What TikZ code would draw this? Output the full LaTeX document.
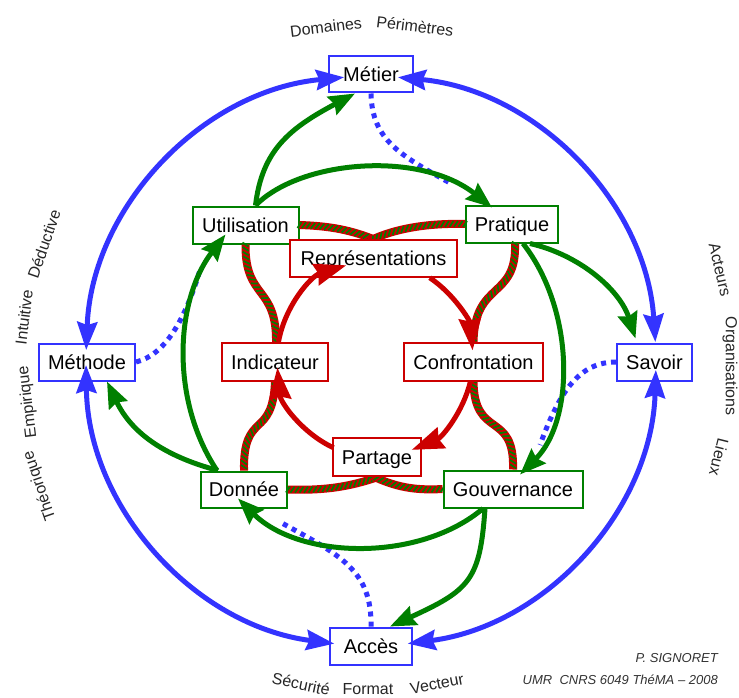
\documentclass[tikz,border=0pt]{standalone}
\usepackage{fontspec}
\setmainfont{Liberation Sans}
\usetikzlibrary{arrows.meta,decorations.markings}
\definecolor{cblue}{RGB}{51,51,255}
\definecolor{cgreen}{RGB}{0,128,0}
\definecolor{cred}{RGB}{204,0,0}
\begin{document}
\begin{tikzpicture}[x=1pt,y=-1pt,
  box/.style={draw, fill=white, line width=2pt, inner sep=0pt, text height=14.3pt, text depth=0pt, font=\fontsize{20}{24}\selectfont, text=black},
  bbox/.style={box, draw=cblue},
  gbox/.style={box, draw=cgreen},
  rbox/.style={box, draw=cred},
  bluearc/.style={draw=cblue, line width=5pt, {Stealth[length=28pt,width=20pt,inset=3pt]}-{Stealth[length=28pt,width=20pt,inset=3pt]}},
  greenarr/.style={draw=cgreen, line width=5pt, -{Stealth[length=26pt,width=20pt,inset=3pt]}},
  redarr/.style={draw=cred, line width=5pt, -{Stealth[length=32pt,width=22pt,inset=3pt]}},
  bluedot/.style={draw=cblue, line width=5pt, dash pattern=on 5pt off 5pt},
  rope/.style={draw=cred, line width=8pt, postaction={decorate, decoration={markings, mark=between positions 0 and 1 step 4.5pt with {\draw[cgreen, line width=1.7pt] (-2pt,-3pt) -- (2pt,3pt);}}}},
  circtext/.style={font=\fontsize{16}{19}\selectfont, text=black!85, inner sep=0pt},
  credit/.style={font=\fontsize{13}{15}\selectfont\itshape, text=black!80, inner sep=0pt, anchor=east}
]
\fill[white] (0,0) rectangle (739,698);
\useasboundingbox (0,0) rectangle (739,698);
\coordinate (C) at (371,361);
\coordinate (c) at (375,359);

% nodes
\node[bbox, minimum width=84pt, minimum height=36pt] (Metier) at (371,74.5) {Métier};
\node[bbox, minimum width=96pt, minimum height=37pt] (Methode) at (87,362) {Méthode};
\node[bbox, minimum width=75pt, minimum height=37pt] (Savoir) at (654.5,362) {Savoir};
\node[bbox, minimum width=82pt, minimum height=37pt] (Acces) at (371,646) {Accès};
\node[gbox, minimum width=106pt, minimum height=37pt] (Util) at (245.5,225) {Utilisation};
\node[gbox, minimum width=92pt, minimum height=37pt] (Prat) at (512,224) {Pratique};
\node[gbox, minimum width=86pt, minimum height=36pt] (Donnee) at (244,489.5) {Donnée};
\node[gbox, minimum width=139pt, minimum height=37pt] (Gouv) at (513,489) {Gouvernance};

% ropes (drawn beneath the red boxes)
\draw[rope] (Util.east) .. controls (330,226) and (352,230) .. (378,241);
\draw[rope] (Prat.west) .. controls (430,223) and (395,228) .. (369,241);
\draw[rope] (Util.south) .. controls (245,300) and (277,285) .. (276,343);
\draw[rope] (275,381) .. controls (273,440) and (243,410) .. (Donnee.north);
\draw[rope] ([xshift=3pt]Prat.south) .. controls (517,300) and (474,280) .. (473.5,343);
\draw[rope] (473.5,381) .. controls (474,440) and (515,410) .. (Gouv.north);
\draw[rope] (Donnee.east) .. controls (330,491) and (355,485) .. (381,476);
\draw[rope] (Gouv.west) .. controls (410,491) and (392,485) .. (372,476);

\node[rbox, minimum width=167pt, minimum height=37pt] (Repr) at (373.5,258) {Représentations};
\node[rbox, minimum width=106pt, minimum height=38pt] (Indic) at (275,362) {Indicateur};
\node[rbox, minimum width=139pt, minimum height=38pt] (Confr) at (473.5,362) {Confrontation};
\node[rbox, minimum width=88pt, minimum height=38pt] (Partage) at (377,457) {Partage};

% blue dotted links
\coordinate (d1) at (450,183);
\coordinate (d2) at (540,445);
\coordinate (d3) at (280,522);
\coordinate (d4) at (200,270);
\draw[bluedot] (Metier.south) .. controls (372,140) and (400,155) .. (d1);
\draw[bluedot] (Savoir.west) .. controls (580,362) and (560,390) .. (d2);
\draw[bluedot] (Acces.north) .. controls (372,570) and (340,555) .. (d3);
\draw[bluedot] (Methode.east) .. controls (165,355) and (185,320) .. (d4);

% green arrows
\draw[greenarr] ([xshift=10pt]Util.north) .. controls (262,150) and (290,128) .. ([xshift=-16pt]Metier.south);
\draw[greenarr] ([xshift=10pt]Util.north) .. controls (300,160) and (420,150) .. ([xshift=-20pt,yshift=-3pt]Prat.north);
\draw[greenarr] ([xshift=18pt]Prat.south) .. controls (580,255) and (620,290) .. ([xshift=-19pt,yshift=4pt]Savoir.north);
\draw[greenarr] ([xshift=11pt]Prat.south) .. controls (575,310) and (575,420) .. ([xshift=7pt,yshift=-5pt]Gouv.north);
\draw[greenarr] ([xshift=-28pt]Gouv.south) .. controls (480,580) and (470,590) .. ([xshift=19pt]Acces.north);
\draw[greenarr] ([xshift=-30pt]Gouv.south) .. controls (420,562) and (300,560) .. ([xshift=-6pt,yshift=10pt]Donnee.south);
\draw[greenarr] ([xshift=-26pt]Donnee.north) .. controls (160,455) and (130,430) .. ([xshift=20pt]Methode.south);
\draw[greenarr] ([xshift=-27pt]Donnee.north) .. controls (170,400) and (175,300) .. ([xshift=-20pt,yshift=10pt]Util.south);

% blue circle arcs
\draw[bluearc] ([shift={(-84.6:285)}]C) arc[start angle=-84.6, end angle=-3.8, radius=285];
\draw[bluearc] ([shift={(1.8:285)}]C) arc[start angle=1.8, end angle=82.6, radius=285];
\draw[bluearc] ([shift={(97.4:285)}]C) arc[start angle=97.4, end angle=179.2, radius=285];
\draw[bluearc] ([shift={(182.2:285)}]C) arc[start angle=182.2, end angle=264.6, radius=285];

% red cycle
\draw[redarr] ([shift={(-170:98)}]c) arc[start angle=-170, end angle=-107, radius=98];
\draw[redarr] ([shift={(-56:98)}]c) arc[start angle=-56, end angle=-5, radius=98];
\draw[redarr] ([shift={(13:98)}]c) arc[start angle=13, end angle=68, radius=98];
\draw[redarr] ([shift={(115:98)}]c) arc[start angle=115, end angle=175, radius=98];

% labels around
\node[circtext, rotate=7] (dom) at (326,27) {Domaines};
\node[circtext, rotate=-7] (per) at (415,26) {Périmètres};
\node[circtext, rotate=71] (ded) at (44,244) {Déductive};
\node[circtext, rotate=83] (intu) at (24,317) {Intuitive};
\node[circtext, rotate=97] (emp) at (28,402) {Empirique};
\node[circtext, rotate=109] (theo) at (40,486) {Théorique};
\node[circtext, rotate=-77] (act) at (720,270) {Acteurs};
\node[circtext, rotate=-90] (org) at (730,366) {Organisations};
\node[circtext, rotate=-104] (lieux) at (719,457) {Lieux};
\node[circtext, rotate=-12] (secu) at (301,684) {Sécurité};
\node[circtext] (form) at (368,689) {Format};
\node[circtext, rotate=11] (vect) at (437,684) {Vecteur};

\node[credit] (sig) at (718,658) {P. SIGNORET};
\node[credit] (umr) at (718,680) {UMR\ \ CNRS 6049 ThéMA – 2008};
\end{tikzpicture}
\end{document}
